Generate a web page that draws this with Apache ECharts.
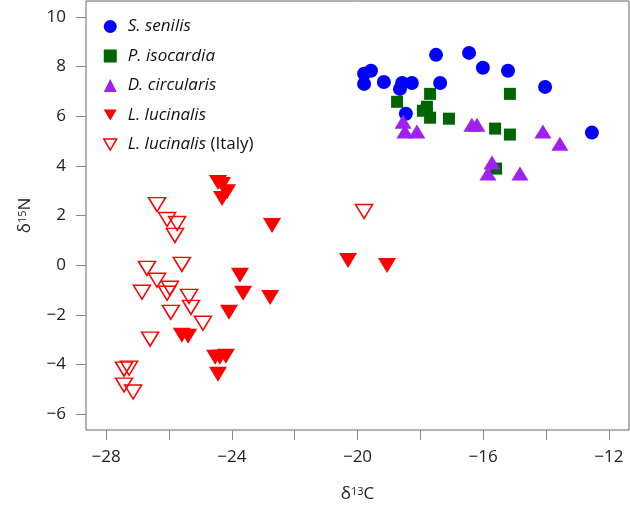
<!DOCTYPE html>
<html>
<head>
<meta charset="utf-8">
<script src="https://cdn.jsdelivr.net/npm/echarts@6/dist/echarts.min.js"></script>
<style>
html,body{margin:0;padding:0;background:#fff;}
#c{width:630px;height:511px;}
</style>
</head>
<body>
<div id="c"></div>
<script>
// Data: [delta13C, delta15N]
const sSenilis = [
  [-19.79, 7.71], [-19.79, 7.30], [-19.57, 7.83], [-19.16, 7.38], [-18.65, 7.10],
  [-18.58, 7.34], [-18.27, 7.34], [-18.46, 6.10], [-17.50, 8.47], [-17.37, 7.34],
  [-16.45, 8.55], [-16.01, 7.95], [-15.21, 7.83], [-14.03, 7.18], [-12.54, 5.34]
];
const pIsocardia = [
  [-18.74, 6.58], [-17.69, 6.90], [-17.79, 6.38], [-17.92, 6.22], [-17.69, 5.94],
  [-17.09, 5.90], [-15.62, 5.50], [-15.15, 5.26], [-15.15, 6.90], [-15.59, 3.89]
];
const dCircularis = [
  [-18.55, 5.78], [-18.49, 5.38], [-18.11, 5.38], [-16.36, 5.66], [-16.20, 5.66],
  [-15.72, 4.13], [-15.85, 3.69], [-14.83, 3.69], [-14.10, 5.38], [-13.56, 4.89]
];
const lLucinalis = [
  [-24.44, 3.33], [-24.31, 3.25], [-24.15, 2.96], [-24.31, 2.68], [-22.72, 1.60],
  [-23.74, -0.41], [-23.64, -1.13], [-22.78, -1.30], [-24.09, -1.90], [-25.59, -2.82],
  [-25.39, -2.86], [-24.53, -3.71], [-24.38, -3.71], [-24.19, -3.67], [-24.44, -4.39],
  [-20.30, 0.19], [-19.06, -0.01]
];
const lLucinalisItaly = [
  [-26.38, 2.44], [-26.06, 1.84], [-25.74, 1.68], [-25.81, 1.20], [-26.70, -0.13],
  [-25.59, 0.03], [-26.38, -0.61], [-25.97, -0.93], [-26.06, -1.13], [-26.86, -1.09],
  [-25.36, -1.26], [-25.94, -1.90], [-25.30, -1.70], [-24.92, -2.34], [-26.60, -2.98],
  [-27.43, -4.19], [-27.27, -4.15], [-27.43, -4.83], [-27.14, -5.11], [-19.79, 2.16]
];
const xTicks = [-28, -26, -24, -22, -20, -18, -16, -14, -12];
const xLabels = [-28, -24, -20, -16, -12];
const yTicks = [-6, -4, -2, 0, 2, 4, 6, 8, 10];

const FONT = 'Open Sans';
const TXT = '#222';
const fmt = v => String(v).replace('-', '\u2212');
const DOWN_TRI = 'path://M0,0 L20,0 L10,17.3 Z';

const chart = echarts.init(document.getElementById('c'), null, {renderer: 'canvas'});
chart.setOption({
  backgroundColor: '#fff',
  animation: false,
  textStyle: {fontFamily: FONT},
  grid: {
    left: 86, right: 1, top: 1, bottom: 81,
    show: true, borderColor: '#666', borderWidth: 1, backgroundColor: 'transparent'
  },
  legend: {
    orient: 'vertical',
    left: 98, top: 13,
    itemWidth: 13, itemHeight: 13,
    itemGap: 12.5,
    textStyle: {
      fontFamily: FONT, fontSize: 17, color: '#111',
      rich: {
        i: {fontFamily: FONT, fontSize: 17, fontStyle: 'italic', color: '#111', padding: [0, 0, 0, 6]},
        n: {fontFamily: FONT, fontSize: 17, fontStyle: 'normal', color: '#111'}
      }
    },
    formatter: name => name === 'L. lucinalis (Italy)'
      ? '{i|L. lucinalis} {n|(Italy)}'
      : '{i|' + name + '}',
    data: [
      {name: 'S. senilis'},
      {name: 'P. isocardia'},
      {name: 'D. circularis'},
      {name: 'L. lucinalis', icon: DOWN_TRI, itemStyle: {color: '#FF0000'}},
      {name: 'L. lucinalis (Italy)', icon: DOWN_TRI,
       itemStyle: {color: 'rgba(255,255,255,0)', borderColor: '#FF0000', borderWidth: 1.5}}
    ]
  },
  xAxis: {
    type: 'value',
    min: -28.64, max: -11.36,
    axisLine: {show: false, onZero: false},
    splitLine: {show: false},
    axisTick: {show: true, customValues: xTicks, length: 10, lineStyle: {color: '#888'}},
    axisLabel: {customValues: xLabels, formatter: fmt, fontSize: 17, color: TXT, margin: 19, fontFamily: FONT},
    name: '{a|\u03b4}{s|13}{a|C}',
    nameLocation: 'middle',
    nameGap: 56,
    nameTextStyle: {
      rich: {
        a: {fontSize: 17, color: TXT, fontFamily: FONT},
        s: {fontSize: 11, color: TXT, fontFamily: FONT, verticalAlign: 'top', padding: [0, 0, 6, 0]}
      }
    }
  },
  yAxis: {
    type: 'value',
    min: -6.64, max: 10.64,
    axisLine: {show: false, onZero: false},
    splitLine: {show: false},
    axisTick: {show: true, customValues: yTicks, length: 10, lineStyle: {color: '#888'}},
    axisLabel: {customValues: yTicks, formatter: fmt, fontSize: 17, color: TXT, margin: 20, fontFamily: FONT},
    name: '{a|\u03b4}{s|15}{a|N}',
    nameLocation: 'middle',
    nameGap: 52,
    nameTextStyle: {
      rich: {
        a: {fontSize: 17, color: TXT, fontFamily: FONT},
        s: {fontSize: 11, color: TXT, fontFamily: FONT, verticalAlign: 'top', padding: [0, 0, 6, 0]}
      }
    }
  },
  series: [
    {
      name: 'S. senilis', type: 'scatter', data: sSenilis,
      symbol: 'circle', symbolSize: 14,
      itemStyle: {color: '#0000FF', opacity: 1}
    },
    {
      name: 'P. isocardia', type: 'scatter', data: pIsocardia,
      symbol: 'rect', symbolSize: 12,
      itemStyle: {color: '#006400', opacity: 1}
    },
    {
      name: 'D. circularis', type: 'scatter', data: dCircularis,
      symbol: 'triangle', symbolSize: [17, 14],
      itemStyle: {color: '#A020F0', opacity: 1}
    },
    {
      name: 'L. lucinalis', type: 'scatter', data: lLucinalis,
      symbol: 'triangle', symbolSize: [18, 15], symbolRotate: 180,
      itemStyle: {color: '#FF0000', opacity: 1}
    },
    {
      name: 'L. lucinalis (Italy)', type: 'scatter', data: lLucinalisItaly,
      symbol: 'triangle', symbolSize: [17, 14], symbolRotate: 180,
      itemStyle: {color: 'rgba(255,255,255,0)', borderColor: '#FF0000', borderWidth: 1.5, opacity: 1}
    }
  ]
});
</script>
</body>
</html>
